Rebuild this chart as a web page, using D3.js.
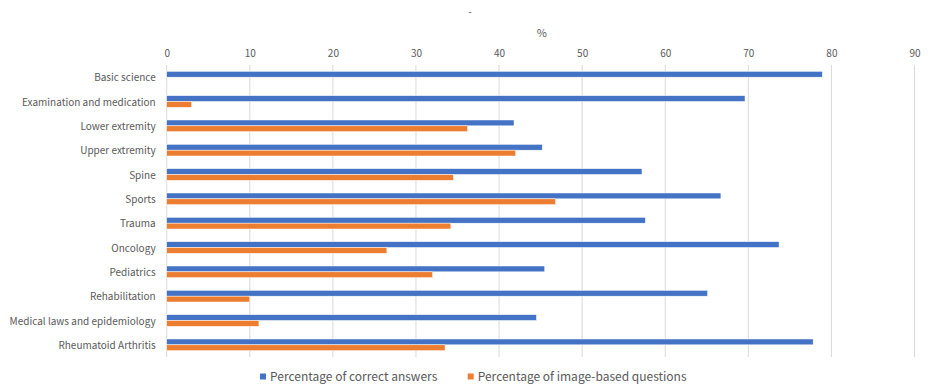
<!DOCTYPE html>
<html><head><meta charset="utf-8">
<script src="https://cdn.jsdelivr.net/npm/d3@7"></script>
<style>body{margin:0;background:#fff;} text{font-family:"Noto Sans CJK JP","Noto Sans",sans-serif;}</style>
</head><body><svg id="c" width="930" height="388"></svg>
<script>
const categories = ["Basic science","Examination and medication","Lower extremity","Upper extremity","Spine","Sports","Trauma","Oncology","Pediatrics","Rehabilitation","Medical laws and epidemiology","Rheumatoid Arthritis"];
const correctAnswers = [78.9,69.6,41.8,45.2,57.2,66.7,57.6,73.7,45.5,65.1,44.5,77.8];
const imageBased = [0,3.0,36.2,42.0,34.5,46.8,34.2,26.5,32.0,10.0,11.1,33.5];
const seriesNames = ["Percentage of correct answers","Percentage of image-based questions"];
const tickValues = [0,10,20,30,40,50,60,70,80,90];
const axisTitle = "%";

const colors = ["#4472C4","#ED7D31"];
const svg = d3.select("#c");
const m = {left:166.7, right:914.5, top:65, bottom:357};
const x = d3.scaleLinear().domain([0,90]).range([m.left,m.right]);
const y = d3.scaleBand().domain(categories).range([m.top,m.bottom]).paddingInner(0.52).paddingOuter(0.26);
const sub = d3.scaleBand().domain([0,1]).range([0,y.bandwidth()]);

// gridlines
svg.append("g").selectAll("line").data(tickValues).join("line")
  .attr("x1",d=>x(d)).attr("x2",d=>x(d)).attr("y1",m.top).attr("y2",m.bottom)
  .attr("stroke","#d9d9d9").attr("stroke-width",1);

// top axis labels
const ax = svg.append("g").attr("transform",`translate(0,${m.top-8})`)
  .call(d3.axisTop(x).tickValues(tickValues).tickSize(0).tickPadding(0));
ax.select(".domain").remove();
ax.selectAll("text").attr("fill","#595959").attr("font-size","10px")
  .style("font-family","'Noto Sans CJK JP','Noto Sans',sans-serif");

svg.append("text").attr("x",541.7).attr("y",37).attr("text-anchor","middle")
  .attr("fill","#595959").attr("font-size","11px").text(axisTitle);
svg.append("text").attr("x",470).attr("y",15).attr("text-anchor","middle")
  .attr("fill","#595959").attr("font-size","10px").text("-");

// category labels
const ay = svg.append("g").attr("transform",`translate(${m.left},1)`)
  .call(d3.axisLeft(y).tickSize(0).tickPadding(11));
ay.select(".domain").remove();
ay.selectAll("text").attr("fill","#595959").attr("font-size","10px")
  .style("font-family","'Noto Sans CJK JP','Noto Sans',sans-serif");

// bars
const seriesData = [correctAnswers, imageBased];
seriesData.forEach((vals,si)=>{
  svg.append("g").selectAll("rect").data(vals).join("rect")
    .attr("x",x(0)).attr("y",(d,i)=>y(categories[i])+sub(si))
    .attr("width",d=>x(d)-x(0)).attr("height",sub.bandwidth())
    .attr("fill",colors[si]).attr("stroke","#fff").attr("stroke-width",0.5)
    .attr("display",d=>d>0?null:"none");
});

// legend
const leg = [{x:260,t:seriesNames[0],c:colors[0]},{x:467.7,t:seriesNames[1],c:colors[1]}];
leg.forEach(l=>{
  svg.append("rect").attr("x",l.x).attr("y",373.5).attr("width",6).attr("height",6).attr("fill",l.c);
  svg.append("text").attr("x",l.x+10).attr("y",381).attr("fill","#595959").attr("font-size","12px").text(l.t);
});
</script></body></html>
